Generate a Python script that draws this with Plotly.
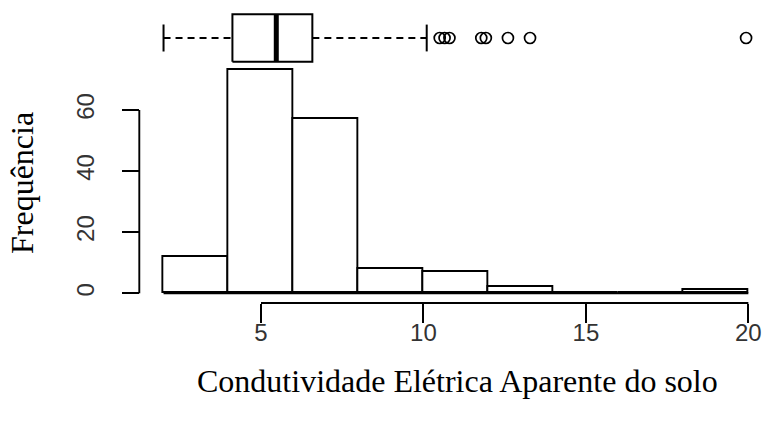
import plotly.graph_objects as go

# Histogram data: bin edges and frequencies
bin_edges = [2, 4, 6, 8, 10, 12, 14, 16, 18, 20]
counts = [12, 73, 57, 8, 7, 2, 0, 0, 1]

# Boxplot statistics
whisker_low = 2.0
q1 = 4.12
median = 5.47
q3 = 6.58
whisker_high = 10.1
outliers = [10.5, 10.65, 10.8, 11.78, 11.92, 12.6, 13.28, 19.93]

x_ticks = [5, 10, 15, 20]
y_ticks = [0, 20, 40, 60]

W, H = 765, 423
INK = "black"
LW = 1.9

fig = go.Figure()

# Histogram bars
lefts = bin_edges[:-1]
widths = [b - a for a, b in zip(bin_edges[:-1], bin_edges[1:])]
fig.add_trace(go.Bar(
    x=lefts, y=counts, width=widths, offset=0,
    marker=dict(color="white", line=dict(color=INK, width=LW)),
    xaxis="x", yaxis="y", showlegend=False, hoverinfo="skip",
    cliponaxis=False,
))
# baseline under empty bins
fig.add_trace(go.Scatter(
    x=[bin_edges[0], bin_edges[-1]], y=[0, 0], mode="lines",
    line=dict(color=INK, width=LW), xaxis="x", yaxis="y",
    showlegend=False, hoverinfo="skip",
))

# Boxplot (horizontal, centred at 1)
c, hw, cap = 1.0, 0.4, 0.225
fig.add_trace(go.Scatter(
    x=[q1, q3, q3, q1, q1], y=[c - hw, c - hw, c + hw, c + hw, c - hw],
    mode="lines", line=dict(color=INK, width=2),
    xaxis="x", yaxis="y2", showlegend=False, hoverinfo="skip",
))
fig.add_trace(go.Scatter(
    x=[median, median], y=[c - hw, c + hw], mode="lines",
    line=dict(color=INK, width=5), xaxis="x", yaxis="y2",
    showlegend=False, hoverinfo="skip",
))
for a, b in [(whisker_low, q1), (q3, whisker_high)]:
    fig.add_trace(go.Scatter(
        x=[a, b], y=[c, c], mode="lines",
        line=dict(color=INK, width=1.8, dash="7px,5px"),
        xaxis="x", yaxis="y2", showlegend=False, hoverinfo="skip",
    ))
for w in [whisker_low, whisker_high]:
    fig.add_trace(go.Scatter(
        x=[w, w], y=[c - cap, c + cap], mode="lines",
        line=dict(color=INK, width=2), xaxis="x", yaxis="y2",
        showlegend=False, hoverinfo="skip",
    ))
fig.add_trace(go.Scatter(
    x=outliers, y=[c] * len(outliers), mode="markers",
    marker=dict(symbol="circle-open", size=11, color=INK, line=dict(width=1.7)),
    xaxis="x", yaxis="y2", showlegend=False, hoverinfo="skip",
))

tick_font = dict(family="Liberation Sans, Arial, sans-serif", size=24, color="#333333")
title_font = dict(family="Liberation Serif, Times New Roman, serif", size=32, color="black")

fig.update_layout(
    width=W, height=H,
    margin=dict(l=0, r=0, t=0, b=0),
    paper_bgcolor="white", plot_bgcolor="rgba(0,0,0,0)",
    bargap=0,
    xaxis=dict(
        domain=[147.3 / W, 764.6 / W], range=[1.5, 20.5],
        anchor="y", showgrid=False, zeroline=False, showline=False,
        tickmode="array", tickvals=x_ticks, ticktext=[str(t) for t in x_ticks],
        ticks="outside", ticklen=19, tickwidth=1.9, tickcolor=INK,
        tickfont=tick_font, ticklabelstandoff=-11,
    ),
    yaxis=dict(
        domain=[(H - 303) / H, (H - 66) / H], range=[-3.175, 74.4],
        anchor="free", position=139.3 / W,
        showgrid=False, zeroline=False, showline=False,
        tickmode="array", tickvals=y_ticks, ticktext=[str(t) for t in y_ticks],
        ticks="outside", ticklen=17.5, tickwidth=1.9, tickcolor=INK,
        tickangle=-90, tickfont=tick_font, ticklabelstandoff=18,
    ),
    yaxis2=dict(
        domain=[(H - 66) / H, 1], range=[0.5302, 1.6376],
        anchor="x", showgrid=False, zeroline=False, showline=False,
        showticklabels=False, ticks="",
    ),
    shapes=[
        dict(type="line", xref="x", yref="y domain",
             x0=x_ticks[0], x1=x_ticks[-1], y0=0, y1=0,
             line=dict(color=INK, width=1.9)),
        dict(type="line", xref="paper", yref="y",
             x0=139.3 / W, x1=139.3 / W, y0=y_ticks[0], y1=y_ticks[-1],
             line=dict(color=INK, width=1.9)),
    ],
    annotations=[
        dict(text="Condutividade Elétrica Aparente do solo",
             xref="paper", yref="paper", x=457 / W, y=(H - 381) / H,
             xanchor="center", yanchor="middle", showarrow=False, font=title_font),
        dict(text="Frequência", textangle=-90,
             xref="paper", yref="paper", x=22 / W, y=(H - 183) / H,
             xanchor="center", yanchor="middle", showarrow=False, font=title_font),
    ],
)

fig.write_html("out.html")
